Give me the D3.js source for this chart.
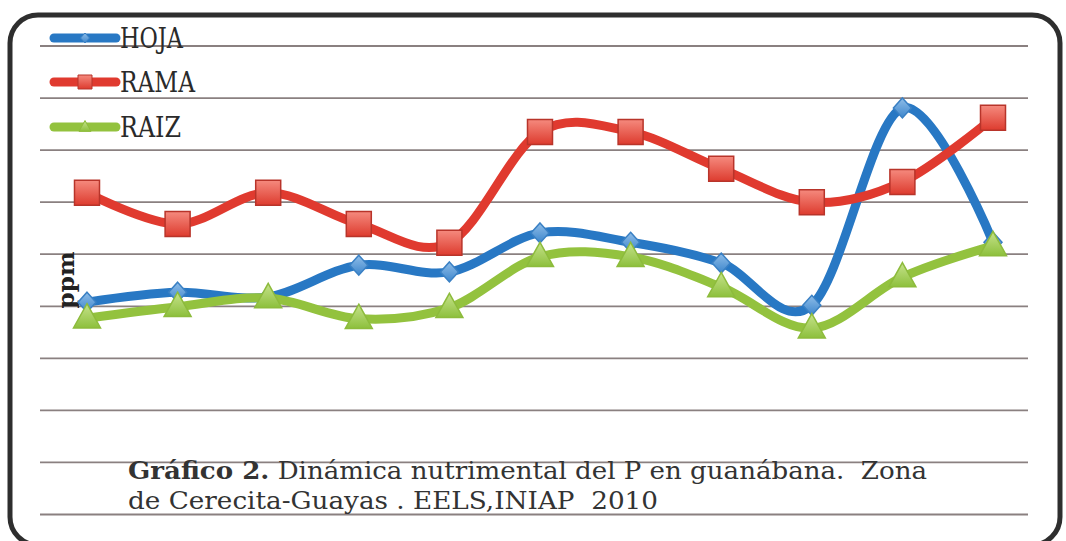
<!DOCTYPE html>
<html>
<head>
<meta charset="utf-8">
<script src="https://cdn.jsdelivr.net/npm/d3@7"></script>
<style>
  html, body { margin: 0; padding: 0; background: #fff; }
  svg { display: block; }
  text { white-space: pre; }
</style>
</head>
<body>
<svg id="chart" width="1066" height="541"></svg>
<script>
// ---- Data (units = gridline steps) ----
const categories = ["1","2","3","4","5","6","7","8","9","10","11"];
const hoja = [4.07, 4.26, 4.17, 4.78, 4.65, 5.40, 5.22, 4.82, 4.01, 7.80, 5.22];
const rama = [6.17, 5.57, 6.17, 5.57, 5.21, 7.34, 7.34, 6.63, 5.99, 6.38, 7.61];
const raiz = [3.76, 3.98, 4.15, 3.75, 3.96, 4.94, 4.94, 4.36, 3.57, 4.55, 5.15];
const seriesNames = ["HOJA", "RAMA", "RAIZ"];
const gridTicks = [0, 1, 2, 3, 4, 5, 6, 7, 8, 9];
const yLabel = "ppm";
const captionBold = "Gráfico 2.";
const captionRest = " Dinámica nutrimental del P en guanábana.  Zona";
const captionLine2 = "de Cerecita-Guayas . EELS,INIAP  2010";

const svg = d3.select("#chart");
const defs = svg.append("defs");

function grad(id, c1, c2) {
  const g = defs.append("linearGradient").attr("id", id)
    .attr("x1", 0).attr("y1", 0).attr("x2", 0).attr("y2", 1);
  g.append("stop").attr("offset", "0%").attr("stop-color", c1);
  g.append("stop").attr("offset", "100%").attr("stop-color", c2);
}
grad("gRed", "#f58a7e", "#dd3b2e");
grad("gBlue", "#8fbde8", "#3d86cc");
grad("gGreen", "#c6e28c", "#8dc03c");

// Frame
svg.append("rect")
  .attr("x", 10).attr("y", 15).attr("width", 1050).attr("height", 530)
  .attr("rx", 28).attr("ry", 28)
  .attr("fill", "#fff").attr("stroke", "#2e2e2e").attr("stroke-width", 5);

// Scales
const x = d3.scalePoint().domain(categories).range([87, 993]);
const y = d3.scaleLinear().domain([0, 9]).range([514, 45.5]);

// Gridlines via axis
const gridG = svg.append("g").attr("transform", "translate(40,0)")
  .call(d3.axisLeft(y).tickValues(gridTicks).tickSize(-988).tickFormat(""));
gridG.select(".domain").remove();
gridG.selectAll(".tick line").attr("stroke", "#8a8080").attr("stroke-width", 1.8);

// y label
svg.append("text")
  .attr("transform", "translate(74,280) rotate(-90)")
  .attr("text-anchor", "middle")
  .attr("font-family", "DejaVu Serif, serif")
  .attr("font-weight", "bold")
  .attr("font-size", 22)
  .attr("fill", "#222")
  .attr("textLength", 57).attr("lengthAdjust", "spacingAndGlyphs")
  .text(yLabel);

// Caption
const cap1 = svg.append("text")
  .attr("x", 128).attr("y", 479)
  .attr("font-family", "DejaVu Serif, serif")
  .attr("font-size", 24)
  .attr("fill", "#333")
  .attr("textLength", 799).attr("lengthAdjust", "spacingAndGlyphs");
cap1.append("tspan").attr("font-weight", "bold").text(captionBold);
cap1.append("tspan").text(captionRest);
svg.append("text")
  .attr("x", 128).attr("y", 509)
  .attr("font-family", "DejaVu Serif, serif")
  .attr("font-size", 24)
  .attr("fill", "#333")
  .attr("textLength", 530).attr("lengthAdjust", "spacingAndGlyphs")
  .text(captionLine2);

// Series
const series = [
  { name: seriesNames[0], values: hoja, color: "#2878c4", marker: "diamond", fill: "url(#gBlue)", stroke: "#3a80c4" },
  { name: seriesNames[1], values: rama, color: "#e03a2f", marker: "square", fill: "url(#gRed)", stroke: "#b8342a" },
  { name: seriesNames[2], values: raiz, color: "#93c23e", marker: "triangle", fill: "url(#gGreen)", stroke: "#8dbb3c" }
];

const line = d3.line()
  .x((d, i) => x(categories[i]))
  .y(d => y(d))
  .curve(d3.curveCardinal.tension(0));

function markerPath(type, s) {
  if (type === "square") return `M${-s/2},${-s/2}h${s}v${s}h${-s}Z`;
  if (type === "diamond") return `M0,${-s/2}L${s*0.45},0L0,${s/2}L${-s*0.45},0Z`;
  const h = s * 0.9;
  return `M0,${-h*0.6}L${s/2},${h*0.4}L${-s/2},${h*0.4}Z`;
}
const markerSize = { square: 25, diamond: 20, triangle: 27 };

series.forEach(s => {
  const g = svg.append("g");
  g.append("path").datum(s.values)
    .attr("d", line)
    .attr("fill", "none")
    .attr("stroke", s.color)
    .attr("stroke-width", 9)
    .attr("stroke-linejoin", "round")
    .attr("stroke-linecap", "round");
  g.selectAll("path.mk").data(s.values).join("path")
    .attr("class", "mk")
    .attr("transform", (d, i) => `translate(${x(categories[i])},${y(d)})`)
    .attr("d", markerPath(s.marker, markerSize[s.marker]))
    .attr("fill", s.fill)
    .attr("stroke", s.stroke)
    .attr("stroke-width", 1.5);
});

// Legend
const legendY = [38, 82, 127];
const legendSize = { square: 14, diamond: 10, triangle: 12 };
const textW = [63, 75, 61];
series.forEach((s, i) => {
  const g = svg.append("g").attr("transform", `translate(0,${legendY[i]})`);
  g.append("line").attr("x1", 54).attr("x2", 116).attr("y1", 0).attr("y2", 0)
    .attr("stroke", s.color).attr("stroke-width", 9).attr("stroke-linecap", "round");
  g.append("path").attr("transform", "translate(85,0)")
    .attr("d", markerPath(s.marker, legendSize[s.marker]))
    .attr("fill", s.fill).attr("stroke", s.stroke).attr("stroke-width", 1);
  g.append("text").attr("x", 120).attr("y", 10)
    .attr("font-family", "DejaVu Serif, serif")
    .attr("font-size", 27)
    .attr("fill", "#2a2a2a")
    .attr("textLength", textW[i]).attr("lengthAdjust", "spacingAndGlyphs")
    .text(s.name);
});
</script>
</body>
</html>
